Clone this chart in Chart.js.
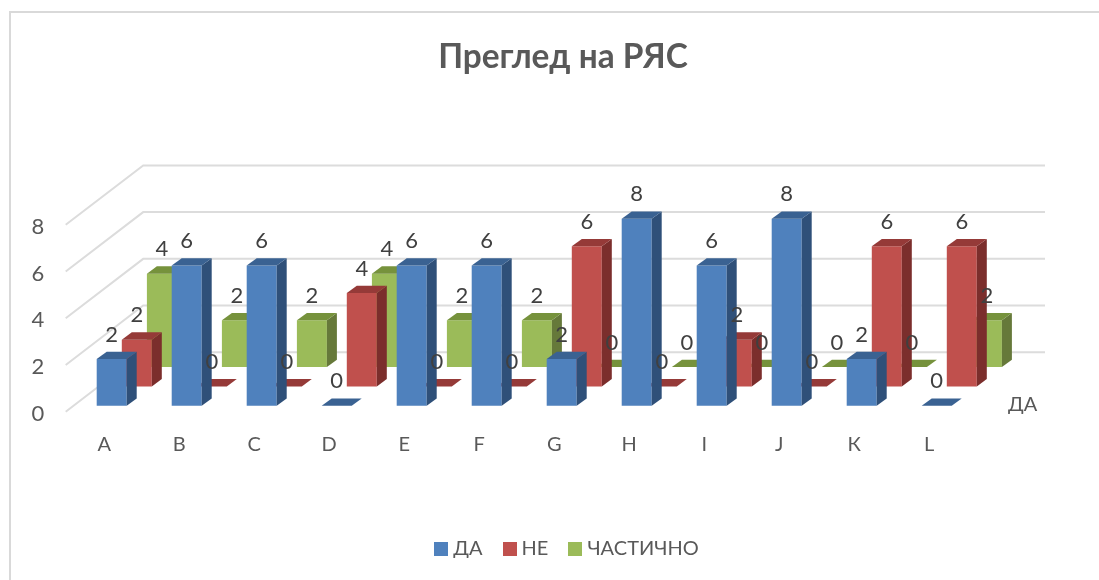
<!DOCTYPE html>
<html>
<head>
<meta charset="utf-8">
<title>Преглед на РЯС</title>
<script src="https://cdn.jsdelivr.net/npm/chart.js@4"></script>
<style>
  html, body { margin: 0; padding: 0; background: #fff; }
  #wrap { position: relative; width: 1099px; height: 580px; overflow: hidden; }
  #frame { position: absolute; left: 9px; top: 11px; right: -5px; bottom: -5px; border: 2px solid #d9d9d9; }
  canvas { position: absolute; left: 0; top: 0; }
</style>
</head>
<body>
<div id="wrap">
  <div id="frame"></div>
  <canvas id="chart" width="1099" height="580"></canvas>
</div>
<script>
  const titleText = "Преглед на РЯС";
  const categories = ["A", "B", "C", "D", "E", "F", "G", "H", "I", "J", "К", "L"];
  const yesValues = [2, 6, 6, 0, 6, 6, 2, 8, 6, 8, 2, 0];
  const noValues = [2, 0, 0, 4, 0, 0, 6, 0, 2, 0, 6, 6];
  const partlyValues = [4, 2, 2, 4, 2, 2, 0, 0, 0, 0, 0, 2];

  const FONT = "Lato, 'Noto Sans', sans-serif";
  const colors = [
    { front: "#4f81bd", top: "#3a6292", side: "#2f5079" },
    { front: "#c0504d", top: "#953a38", side: "#7b2e2c" },
    { front: "#9bbb59", top: "#76923c", side: "#66793a" },
  ];

  // 3D look: each series sits further back, each bar gets a top and a side face
  const ROW_DX = 25.1;
  const ROW_DY = -19.3;
  const FACE_DX = 10;
  const FACE_DY = -7.3;

  // legend swatches are images so the gap to the text can be kept tight
  function makeSwatch(color) {
    const c = document.createElement("canvas");
    c.width = 14;
    c.height = 14;
    const g = c.getContext("2d");
    g.fillStyle = color;
    g.fillRect(0, 0, 14, 14);
    return c;
  }
  const swatches = colors.map((c) => makeSwatch(c.front));

  function makeDataset(label, data, i) {
    return {
      label: label,
      data: data,
      backgroundColor: colors[i].front,
      borderWidth: 0,
      clip: false,
    };
  }

  const bars3d = {
    id: "bars3d",
    afterLayout(chart) {
      // the original legend sits a little right of the title
      chart.legend.left += 6;
      chart.legend.right += 6;
    },
    beforeDatasetsDraw(chart) {
      // back wall and side wall gridlines
      const { ctx, scales, chartArea } = chart;
      ctx.save();
      ctx.strokeStyle = "#dcdcdc";
      ctx.lineWidth = 2;
      scales.y.ticks.forEach((t) => {
        const py = scales.y.getPixelForValue(t.value);
        ctx.beginPath();
        ctx.moveTo(chartArea.left - 8.5, py + 6);
        ctx.lineTo(chartArea.left + 69, py - 53.4);
        ctx.lineTo(chartArea.right + 70.8, py - 53.4);
        ctx.stroke();
      });
      ctx.restore();
    },
    beforeDatasetDraw(chart, args) {
      chart.ctx.save();
      chart.ctx.translate(ROW_DX * args.index, ROW_DY * args.index);
    },
    afterDatasetDraw(chart, args) {
      const ctx = chart.ctx;
      const c = colors[args.index];
      args.meta.data.forEach((bar) => {
        const left = bar.x - bar.width / 2;
        const right = bar.x + bar.width / 2;
        ctx.fillStyle = c.side;
        ctx.beginPath();
        ctx.moveTo(right, bar.y);
        ctx.lineTo(right + FACE_DX, bar.y + FACE_DY);
        ctx.lineTo(right + FACE_DX, bar.base + FACE_DY);
        ctx.lineTo(right, bar.base);
        ctx.closePath();
        ctx.fill();
        ctx.fillStyle = c.top;
        ctx.beginPath();
        ctx.moveTo(left, bar.y);
        ctx.lineTo(left + FACE_DX, bar.y + FACE_DY);
        ctx.lineTo(right + FACE_DX, bar.y + FACE_DY);
        ctx.lineTo(right, bar.y);
        ctx.closePath();
        ctx.fill();
      });
      ctx.restore();
    },
    afterDatasetsDraw(chart) {
      // value labels go over every bar, same as the original
      const ctx = chart.ctx;
      ctx.save();
      ctx.font = "22px " + FONT;
      ctx.fillStyle = "#404040";
      ctx.textAlign = "center";
      ctx.textBaseline = "middle";
      chart.data.datasets.forEach((ds, i) => {
        chart.getDatasetMeta(i).data.forEach((bar, j) => {
          ctx.fillText(ds.data[j], bar.x + ROW_DX * i, bar.y + ROW_DY * i - 24.5);
        });
      });
      // series name at the end of the depth axis
      ctx.font = "20px " + FONT;
      ctx.fillStyle = "#595959";
      ctx.fillText(chart.data.datasets[0].label, chart.chartArea.right + 48.5, 405);
      ctx.restore();
    },
  };

  new Chart(document.getElementById("chart"), {
    type: "bar",
    data: {
      labels: categories,
      datasets: [
        makeDataset("ДА", yesValues, 0),
        makeDataset("НЕ", noValues, 1),
        makeDataset("ЧАСТИЧНО", partlyValues, 2),
      ],
    },
    options: {
      responsive: false,
      animation: false,
      layout: { padding: { left: 27, right: 0, top: 0, bottom: 11 } },
      datasets: {
        bar: { grouped: false, categoryPercentage: 1, barPercentage: 0.4 },
      },
      scales: {
        x: {
          grid: { display: false, drawTicks: false },
          border: { display: false },
          ticks: {
            color: "#595959",
            font: { family: FONT, size: 20 },
            padding: 27,
            labelOffset: -7.5,
            maxRotation: 0,
            autoSkip: false,
          },
          afterFit(scale) {
            scale.height = 108.3;
          },
        },
        y: {
          min: 0,
          max: 8,
          grid: { display: false, drawTicks: false },
          border: { display: false },
          ticks: {
            stepSize: 2,
            color: "#595959",
            font: { family: FONT, size: 22 },
            padding: 30,
            labelOffset: 8,
          },
          afterFit(scale) {
            scale.width = 47.2;
          },
        },
        // empty axis, only keeps the room on the right for the walls
        rightRoom: {
          position: "right",
          display: true,
          grid: { display: false, drawTicks: false },
          border: { display: false },
          ticks: { display: false },
          afterFit(scale) {
            scale.width = 124.8;
          },
        },
      },
      plugins: {
        title: {
          display: true,
          text: titleText,
          color: "#595959",
          font: { family: FONT, size: 33.4, weight: "bold" },
          padding: { top: 37, bottom: 141.7 },
        },
        legend: {
          position: "bottom",
          labels: {
            usePointStyle: true,
            pointStyleWidth: 4,
            padding: 25,
            color: "#595959",
            font: { family: FONT, size: 20 },
            generateLabels(chart) {
              const items = Chart.defaults.plugins.legend.labels.generateLabels(chart);
              items.forEach((item, i) => {
                item.pointStyle = swatches[i];
              });
              return items;
            },
          },
        },
        tooltip: { enabled: false },
      },
    },
    plugins: [bars3d],
  });
</script>
</body>
</html>
